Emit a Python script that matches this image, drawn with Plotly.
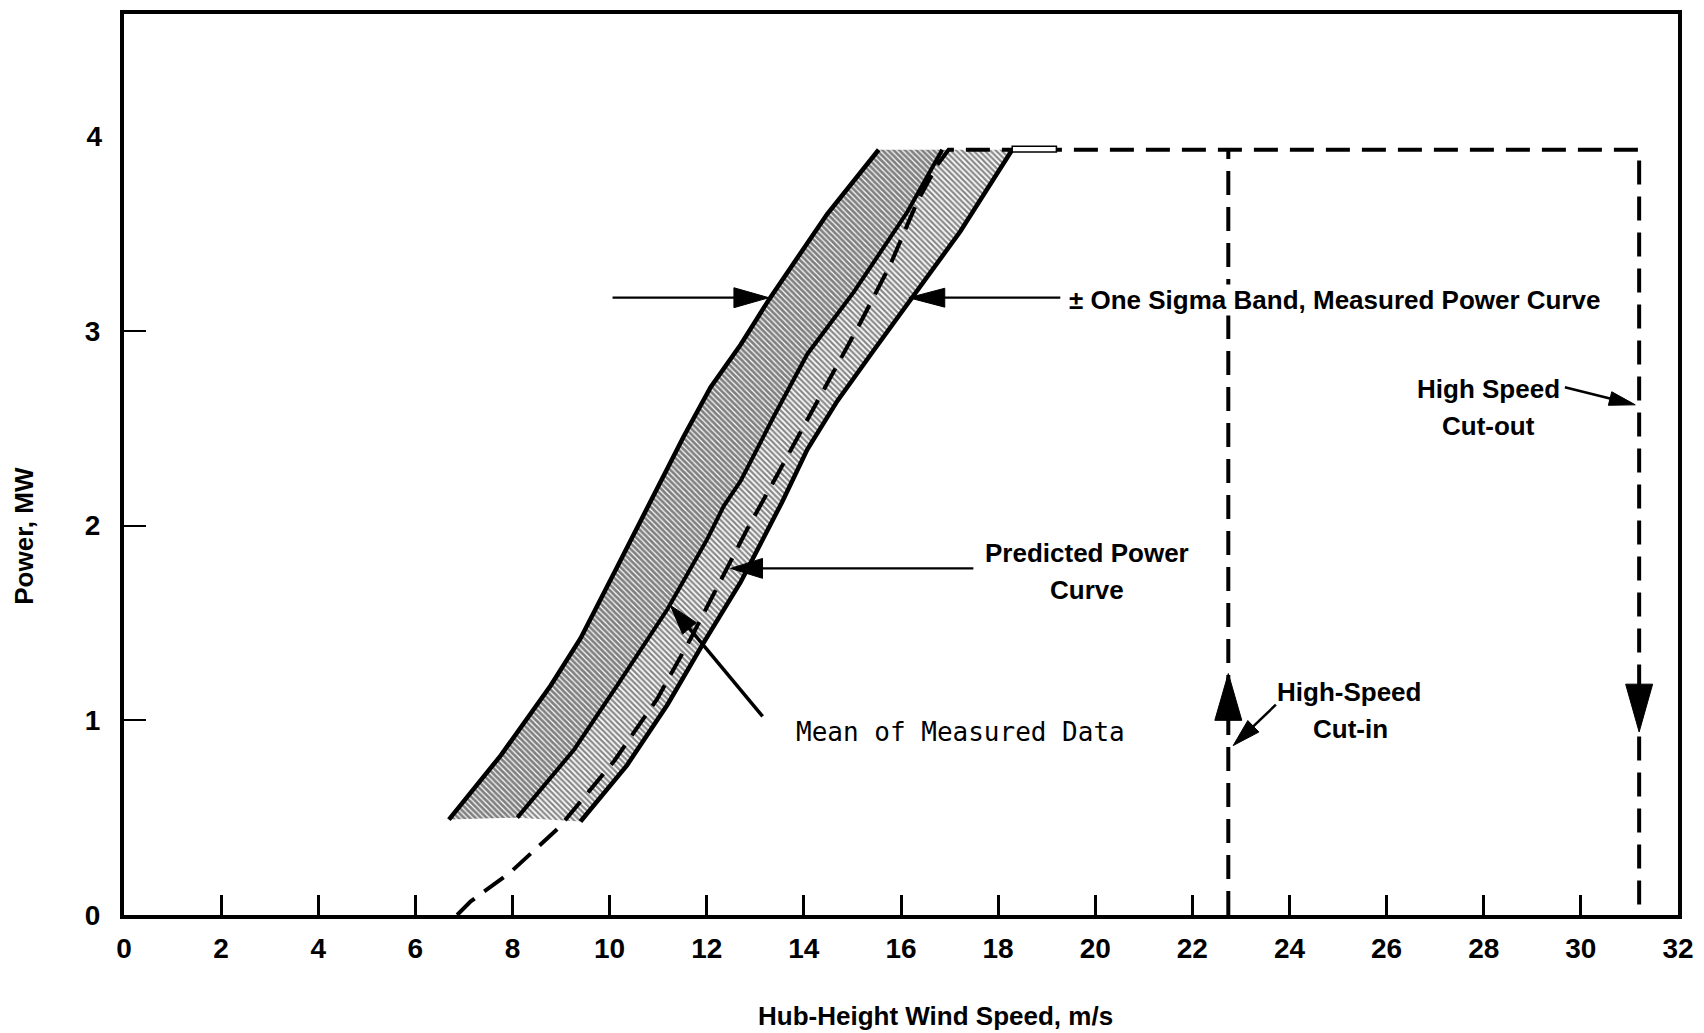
import numpy as np
import plotly.graph_objects as go

# ---------------- data ----------------
X_MAX = 32
Y_MAX = 4.627
RATED = 3.93  # rated power level, MW

x_ticks = list(range(0, 33, 2))
y_ticks_marked = [0, 1, 2, 3]
y_ticks_unmarked = [4]

# +1 sigma boundary (left edge of the band)
left_x = [6.69, 7.76, 8.79, 9.40, 10.16, 10.84, 11.53, 12.08, 12.70, 13.28, 14.48, 15.54]
left_y = [0.49, 0.82, 1.18, 1.42, 1.79, 2.12, 2.46, 2.71, 2.93, 3.16, 3.60, 3.93]
# -1 sigma boundary (right edge of the band)
right_x = [9.40, 10.36, 11.19, 11.94, 12.70, 13.55, 14.07, 14.69, 15.44, 16.16, 17.22, 18.29]
right_y = [0.48, 0.77, 1.08, 1.40, 1.71, 2.12, 2.39, 2.64, 2.90, 3.15, 3.51, 3.93]
# mean of measured data
mean_x = [8.10, 9.27, 10.16, 11.19, 12.01, 12.35, 12.70, 13.38, 14.07, 15.03, 16.13, 16.85]
mean_y = [0.50, 0.85, 1.18, 1.57, 1.93, 2.10, 2.23, 2.56, 2.88, 3.20, 3.61, 3.93]
# predicted power curve (incl. rated plateau and high-speed cut-out)
pred_x = [6.86, 7.14, 7.96, 8.75, 8.96, 10.09, 10.98, 11.67, 12.49, 12.83, 13.45, 13.93,
          14.48, 15.16, 15.78, 16.33, 16.74, 16.98, 31.2, 31.2]
pred_y = [0.0, 0.07, 0.22, 0.40, 0.45, 0.79, 1.11, 1.42, 1.81, 1.98, 2.26, 2.48,
          2.73, 3.04, 3.34, 3.66, 3.85, 3.93, 3.93, 0.0]
# high-speed cut-in line
cutin_x = [22.74, 22.74]
cutin_y = [0.0, 3.93]
CUTOUT_X = 31.2
STUB_END = 19.2

# ---------------- figure ----------------
W, H = 1704, 1033
ML, MR, MT, MB = 124, 25, 10, 118
SX = (W - ML - MR) / X_MAX
SY = (H - MT - MB) / Y_MAX

fig = go.Figure()

# hatched band: +sigma .. mean (darker)
polyA_x = left_x + mean_x[::-1]
polyA_y = left_y + mean_y[::-1]
fig.add_trace(go.Scatter(x=polyA_x, y=polyA_y, mode="lines", fill="toself",
                         line=dict(width=0, color="rgba(0,0,0,0)"),
                         fillcolor="white",
                         fillpattern=dict(shape="\\", fgcolor="#000000", bgcolor="white",
                                          size=4, solidity=0.7),
                         hoverinfo="skip"))
# hatched band: mean .. -sigma (lighter)
polyB_x = mean_x + right_x[::-1]
polyB_y = mean_y + right_y[::-1]
fig.add_trace(go.Scatter(x=polyB_x, y=polyB_y, mode="lines", fill="toself",
                         line=dict(width=0, color="rgba(0,0,0,0)"),
                         fillcolor="white",
                         fillpattern=dict(shape="\\", fgcolor="#111111", bgcolor="white",
                                          size=4, solidity=0.55),
                         hoverinfo="skip"))

# boundaries and mean
for xs, ys, w in [(left_x, left_y, 4.5), (right_x, right_y, 4.5), (mean_x, mean_y, 4)]:
    fig.add_trace(go.Scatter(x=xs, y=ys, mode="lines",
                             line=dict(color="black", width=w), hoverinfo="skip"))

# predicted power curve (dashed)
fig.add_trace(go.Scatter(x=pred_x, y=pred_y, mode="lines",
                         line=dict(color="black", width=4, dash="24px,12px"),
                         hoverinfo="skip"))
# high speed cut-in (dashed) -- drawn on the overlaying axis (same range)
fig.add_trace(go.Scatter(x=cutin_x, y=cutin_y, mode="lines", yaxis="y2",
                         line=dict(color="black", width=4, dash="24px,12px"),
                         hoverinfo="skip"))

# short double-line stub at rated power after band
fig.add_shape(type="rect", x0=right_x[-1], x1=STUB_END, y0=RATED - 0.012, y1=RATED + 0.018,
              line=dict(color="black", width=1.5), fillcolor="white")


def add_arrow(tail, tip, head_len, head_w, lw=2.5):
    (x0, y0), (x1, y1) = tail, tip
    dx, dy = (x1 - x0) * SX, (y1 - y0) * SY
    L = float(np.hypot(dx, dy))
    ux, uy = dx / L, dy / L
    bx, by = x1 - ux * head_len / SX, y1 - uy * head_len / SY
    if L > head_len + 1:
        fig.add_shape(type="line", x0=x0, y0=y0,
                      x1=bx + ux * 3 / SX, y1=by + uy * 3 / SY,
                      line=dict(color="black", width=lw))
    h = head_w / 2
    p1 = (bx - uy * h / SX, by + ux * h / SY)
    p2 = (bx + uy * h / SX, by - ux * h / SY)
    path = f"M{x1},{y1} L{p1[0]},{p1[1]} L{p2[0]},{p2[1]} Z"
    fig.add_shape(type="path", path=path, fillcolor="black",
                  line=dict(color="black", width=1))


# annotation arrows
add_arrow((10.06, 3.17), (13.28, 3.17), 35, 20, 2.2)   # sigma left
add_arrow((19.28, 3.17), (16.16, 3.17), 36, 19, 2.2)   # sigma right
add_arrow((17.49, 1.78), (12.49, 1.78), 32, 20, 2.2)   # predicted
add_arrow((13.15, 1.02), (11.25, 1.59), 30, 18, 3.5)   # mean
add_arrow((29.67, 2.71), (31.12, 2.62), 26, 14, 2.5)   # cut-out label
add_arrow((23.72, 1.08), (22.84, 0.87), 28, 16, 2.5)   # cut-in label
add_arrow((cutin_x[0], 1.00), (cutin_x[0], 1.24), 47, 27)     # cut-in head (up)
add_arrow((CUTOUT_X, 1.19), (CUTOUT_X, 0.94), 48, 27)         # cut-out head (down)

SANS = "Liberation Sans, Arial, Helvetica, sans-serif"
lab = dict(family=SANS, size=26, color="black", weight="bold")

annos = [
    dict(x=19.43, y=3.16, text="± One Sigma Band, Measured Power Curve", xanchor="left",
         font=lab, bgcolor="white", borderpad=0),
    dict(x=19.83, y=1.86, text="Predicted Power", font=lab),
    dict(x=19.83, y=1.67, text="Curve", font=lab),
    dict(x=17.23, y=0.94, text="Mean of Measured Data",
         font=dict(family="DejaVu Sans Mono, monospace", size=26, color="black")),
    dict(x=25.23, y=1.145, text="High-Speed", font=lab),
    dict(x=25.25, y=0.956, text="Cut-in", font=lab),
    dict(x=28.09, y=2.70, text="High Speed", font=lab),
    dict(x=28.09, y=2.51, text="Cut-out", font=lab),
]
for a in annos:
    a.setdefault("xanchor", "center")
    fig.add_annotation(xref="x", yref="y", yanchor="middle", showarrow=False, **a)

title_font = dict(family=SANS, size=26, color="black", weight="bold")
fig.add_annotation(xref="paper", yref="paper", x=(936 - ML) / (W - ML - MR),
                   y=(H - MB - 1016) / (H - MT - MB), text="Hub-Height Wind Speed, m/s",
                   showarrow=False, xanchor="center", yanchor="middle", font=title_font)
fig.add_annotation(xref="paper", yref="paper", x=(24 - ML) / (W - ML - MR),
                   y=(H - MB - 534) / (H - MT - MB), text="Power, MW", textangle=-90,
                   showarrow=False, xanchor="center", yanchor="middle", font=title_font)

tick_font = dict(family=SANS, size=28, color="black", weight="bold")
fig.update_layout(
    width=W, height=H,
    margin=dict(l=ML, r=MR, t=MT, b=MB),
    paper_bgcolor="white", plot_bgcolor="white",
    showlegend=False,
    xaxis=dict(range=[0, X_MAX], tickvals=x_ticks, ticktext=[str(v) for v in x_ticks],
               ticks="inside", ticklen=20, tickwidth=3, tickcolor="black",
               showline=True, linewidth=4, linecolor="black", mirror=True,
               showgrid=False, zeroline=False, tickfont=tick_font, ticklabelstandoff=5),
    yaxis=dict(range=[0, Y_MAX], tickvals=y_ticks_marked,
               ticktext=[str(v) for v in y_ticks_marked],
               ticks="inside", ticklen=22, tickwidth=2, tickcolor="black",
               showline=True, linewidth=4, linecolor="black", mirror=True,
               showgrid=False, zeroline=False, tickfont=tick_font, ticklabelstandoff=14),
    yaxis2=dict(range=[0, Y_MAX], overlaying="y", side="left", anchor="x",
                tickvals=y_ticks_unmarked,
                ticktext=[str(v) for v in y_ticks_unmarked], ticks="",
                showline=False, showgrid=False, zeroline=False, tickfont=tick_font,
                ticklabelstandoff=21),
)

fig.write_html("out.html")
